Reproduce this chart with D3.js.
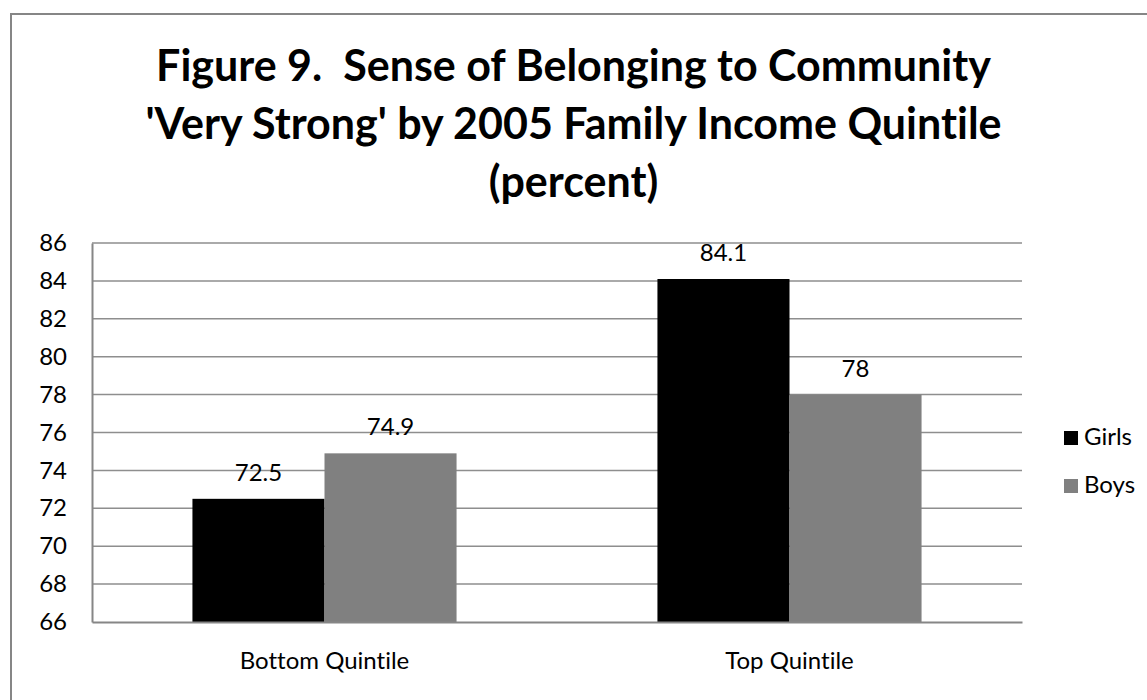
<!DOCTYPE html>
<html>
<head>
<meta charset="utf-8">
<script src="https://cdn.jsdelivr.net/npm/d3@7"></script>
<style>
  html, body { margin: 0; padding: 0; background: #fff; }
  svg { display: block; }
  text { font-variant-ligatures: none; font-feature-settings: "liga" 0, "clig" 0; white-space: pre; }
</style>
</head>
<body>
<svg id="chart" width="1147" height="700"></svg>
<script>
// ---- data ----
const titleLines = ["Figure 9.  Sense of Belonging to Community", "'Very Strong' by 2005 Family Income Quintile", "(percent)"];
const categories = ["Bottom Quintile", "Top Quintile"];
const seriesNames = ["Girls", "Boys"];
const girlsValues = [72.5, 84.1];
const boysValues = [74.9, 78];
const dataLabels = [["72.5", "84.1"], ["74.9", "78"]];
const yTicks = [66, 68, 70, 72, 74, 76, 78, 80, 82, 84, 86];
const seriesColors = ["#000000", "#808080"];

const svg = d3.select("#chart");
const W = 1147, H = 700;
const font = "Lato, 'Open Sans', sans-serif";
const fs = 24;

// outer border (extends beyond right/bottom edge)
svg.append("rect").attr("x", 11).attr("y", 14).attr("width", W).attr("height", H)
  .attr("fill", "#fff").attr("stroke", "#868686").attr("stroke-width", 2);

// title
const titleBaselines = [81, 139, 197];
const titleTargetW = 835;
const tg = svg.append("g");
const titleTexts = tg.selectAll("text").data(titleLines).join("text")
  .attr("x", W / 2).attr("y", (d, i) => titleBaselines[i])
  .attr("xml:space", "preserve")
  .attr("text-anchor", "middle").attr("font-family", font).attr("font-weight", "bold")
  .attr("font-size", 48).attr("fill", "#000").text(d => d);
const w0 = titleTexts.nodes()[0].getComputedTextLength();
titleTexts.attr("font-size", 48 * titleTargetW / w0);

// plot area
const plot = { left: 92, right: 1022, top: 243, bottom: 622 };
const y = d3.scaleLinear().domain([66, 86]).range([plot.bottom, plot.top]);
const x0 = d3.scaleBand().domain(categories).range([plot.left, plot.right]).paddingInner(0.432).paddingOuter(0.216);
const x1 = d3.scaleBand().domain(seriesNames).range([0, x0.bandwidth()]);

// gridlines
svg.append("g").selectAll("line").data(yTicks.filter(t => t !== 66)).join("line")
  .attr("x1", plot.left).attr("x2", plot.right)
  .attr("y1", d => y(d)).attr("y2", d => y(d))
  .attr("stroke", "#8e8e8e").attr("stroke-width", 1.5);

// y axis
const yAxis = d3.axisLeft(y).tickValues(yTicks).tickSize(0).tickPadding(25).tickFormat(d3.format("d"));
const gy = svg.append("g").attr("transform", `translate(${plot.left},0)`).call(yAxis);
gy.select(".domain").attr("stroke", "#868686").attr("stroke-width", 2);
gy.selectAll("text").attr("font-family", font).attr("font-size", fs).attr("fill", "#000");

// bars
const seriesValues = [girlsValues, boysValues];
const rows = categories.map((c, ci) => seriesNames.map((s, si) => ({ c, s, si, v: seriesValues[si][ci], label: dataLabels[si][ci] })));
const gBars = svg.append("g").selectAll("g").data(rows).join("g")
  .attr("transform", (d, i) => `translate(${x0(categories[i])},0)`);
gBars.selectAll("rect").data(d => d).join("rect")
  .attr("x", d => x1(d.s)).attr("width", x1.bandwidth())
  .attr("y", d => y(d.v)).attr("height", d => y(66) - y(d.v))
  .attr("fill", d => seriesColors[d.si]);
gBars.selectAll("text").data(d => d).join("text")
  .attr("x", d => x1(d.s) + x1.bandwidth() / 2).attr("y", d => y(d.v) - 18)
  .attr("text-anchor", "middle").attr("font-family", font).attr("font-size", fs).attr("fill", "#000")
  .text(d => d.label);

// x axis
const xAxis = d3.axisBottom(x0).tickSize(0).tickPadding(30);
const gx = svg.append("g").attr("transform", `translate(0,${plot.bottom})`).call(xAxis);
gx.select(".domain").attr("stroke", "#868686").attr("stroke-width", 2);
gx.selectAll("text").attr("font-family", font).attr("font-size", fs).attr("fill", "#000");

// legend
const lg = svg.append("g").selectAll("g").data(seriesNames).join("g")
  .attr("transform", (d, i) => `translate(1064,${431 + i * 48})`);
lg.append("rect").attr("width", 14).attr("height", 14).attr("fill", (d, i) => seriesColors[i]);
lg.append("text").attr("x", 20).attr("y", 14).attr("font-family", font).attr("font-size", fs).attr("fill", "#000").text(d => d);
</script>
</body>
</html>
